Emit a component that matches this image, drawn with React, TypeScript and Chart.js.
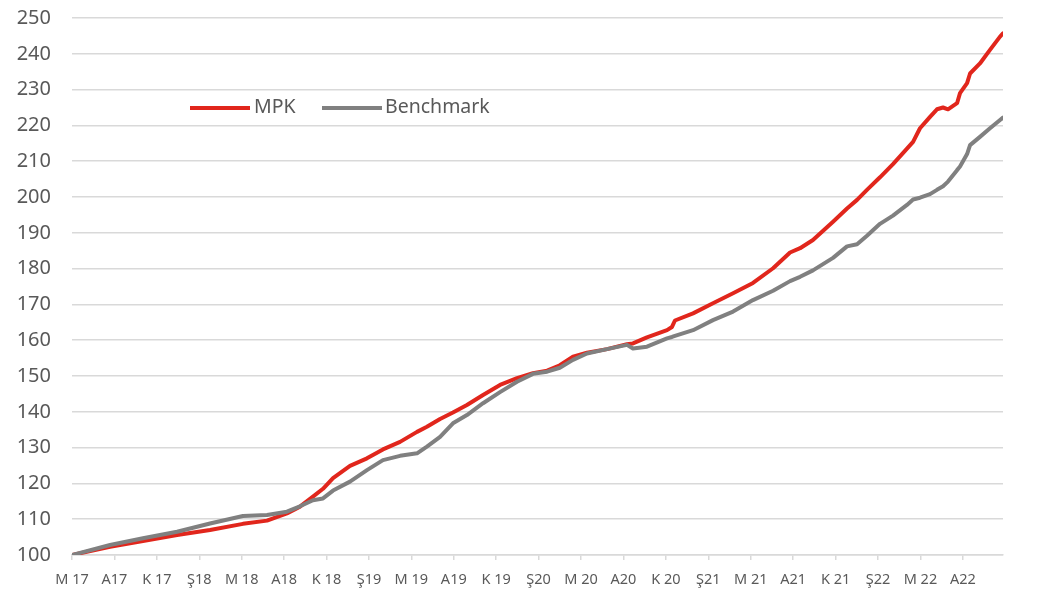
import React, { useEffect, useRef } from "react";
import { Chart, registerables } from "chart.js";

Chart.register(...registerables);

// Quarterly tick labels (Turkish month initials + year), starting May 2017
const tickLabels = [
  "M 17", "A17", "K 17", "Ş18", "M 18", "A18", "K 18", "Ş19", "M 19", "A19", "K 19",
  "Ş20", "M 20", "A20", "K 20", "Ş21", "M 21", "A21", "K 21", "Ş22", "M 22", "A22",
];

// Position of each sample, in months since May 2017
const months = [
  0, 2.69, 5.02, 7.43, 9.76, 12.09, 13.79, 15.2, 16.12, 17.04, 17.75, 18.46, 19.66,
  20.86, 21.99, 23.2, 24.4, 25.1, 26.03, 26.94, 27.93, 29.07, 30.27, 31.47, 32.6,
  33.6, 34.5, 35.43, 36.42, 37.84, 39.25, 39.67, 40.66, 42.08, 42.43, 42.64, 43.92,
  45.33, 46.75, 48.16, 49.58, 50.78, 51.49, 52.4, 53.82, 54.81, 55.52, 56.22, 57.14,
  58.06, 59.05, 59.48, 59.97, 60.68, 61.17, 61.6, 61.95, 62.59, 62.8, 63.3, 63.51,
  64.21, 64.92, 65.63, 65.84,
];

const mpk = [
  100, 102.3, 103.9, 105.6, 107.0, 108.7, 109.6, 111.6, 113.5, 116.3, 118.5, 121.5, 124.9,
  127.0, 129.5, 131.6, 134.4, 135.8, 138.0, 139.8, 141.9, 144.7, 147.5, 149.4, 150.8,
  151.5, 153.0, 155.4, 156.5, 157.5, 158.9, 159.1, 160.8, 162.8, 163.7, 165.5, 167.5,
  170.3, 173.1, 176.0, 180.1, 184.5, 185.7, 188.0, 193.1, 196.8, 199.2, 202.0, 205.5,
  209.2, 213.5, 215.4, 219.2, 222.4, 224.5, 225.0, 224.5, 226.2, 229.0, 231.8, 234.5,
  237.3, 241.1, 244.8, 245.7,
];

const benchmark = [
  100, 102.8, 104.7, 106.5, 108.8, 110.9, 111.2, 112.1, 113.6, 115.3, 115.8, 118.0, 120.5,
  123.7, 126.5, 127.7, 128.4, 130.3, 133.0, 136.8, 139.1, 142.4, 145.5, 148.4, 150.6,
  151.2, 152.3, 154.5, 156.3, 157.5, 158.7, 157.7, 158.2, 160.5, 160.9, 161.2, 162.8,
  165.6, 168.0, 171.2, 173.8, 176.5, 177.7, 179.5, 183.0, 186.2, 186.8, 189.2, 192.5,
  194.8, 197.8, 199.3, 199.8, 200.8, 202.0, 203.0, 204.3, 207.5, 208.5, 212.0, 214.5,
  216.8, 219.2, 221.5, 222.2,
];

const seriesNames = ["MPK", "Benchmark"];
const RED = "#e1261c";
const GRAY = "#808080";
const TEXT = "#595959";
const GRID = "#d9d9d9";
const FONT = "'Noto Sans', sans-serif";

export default function App() {
  const ref = useRef<HTMLCanvasElement>(null);

  useEffect(() => {
    const legendPlugin = {
      id: "customLegend",
      afterDraw(chart: any) {
        const ctx = chart.ctx as CanvasRenderingContext2D;
        ctx.save();
        ctx.lineWidth = 4;
        ctx.lineCap = "butt";
        ctx.font = `19.5px ${FONT}`;
        ctx.textBaseline = "middle";
        ctx.fillStyle = TEXT;
        const items = [
          { color: RED, x0: 190, x1: 250, tx: 254, text: seriesNames[0] },
          { color: GRAY, x0: 322, x1: 382, tx: 385, text: seriesNames[1] },
        ];
        for (const it of items) {
          ctx.strokeStyle = it.color;
          ctx.beginPath();
          ctx.moveTo(it.x0, 108);
          ctx.lineTo(it.x1, 108);
          ctx.stroke();
          ctx.fillText(it.text, it.tx, 107.5);
        }
        ctx.restore();
      },
    };

    const chart = new Chart(ref.current!, {
      type: "line",
      data: {
        datasets: [
          {
            label: seriesNames[0],
            data: months.map((m, i) => ({ x: m, y: mpk[i] })),
            borderColor: RED,
            backgroundColor: RED,
            borderWidth: 4,
            pointRadius: 0,
            tension: 0,
            borderJoinStyle: "round",
            borderCapStyle: "round",
            order: 1,
          },
          {
            label: seriesNames[1],
            data: months.map((m, i) => ({ x: m, y: benchmark[i] })),
            borderColor: GRAY,
            backgroundColor: GRAY,
            borderWidth: 4,
            pointRadius: 0,
            tension: 0,
            borderJoinStyle: "round",
            borderCapStyle: "round",
            order: 0,
          },
        ],
      },
      options: {
        animation: false,
        responsive: false,
        layout: { padding: { top: 18, right: 51, left: 0, bottom: 0 } },
        plugins: { legend: { display: false }, tooltip: { enabled: false } },
        scales: {
          x: {
            type: "linear",
            min: 0,
            max: 65.84,
            afterBuildTicks: (s: any) => {
              s.ticks = tickLabels.map((_, i) => ({ value: i * 3 }));
            },
            afterFit: (s: any) => {
              s.height = 36;
            },
            grid: {
              drawOnChartArea: false,
              drawTicks: true,
              tickLength: 5,
              color: GRID,
              lineWidth: 1.5,
            },
            border: { display: true, color: GRID, width: 1.5 },
            ticks: {
              autoSkip: false,
              maxRotation: 0,
              padding: 11,
              color: TEXT,
              font: { family: FONT, size: 14.5 },
              callback: (_v: any, i: number) => tickLabels[i],
            },
          },
          y: {
            min: 100,
            max: 250,
            afterFit: (s: any) => {
              s.width = 72;
              s.paddingTop = 0;
              s.paddingBottom = 0;
            },
            grid: { drawTicks: false, color: GRID, lineWidth: 1.5 },
            border: { display: false },
            ticks: {
              stepSize: 10,
              padding: 21,
              color: TEXT,
              font: { family: FONT, size: 20 },
            },
          },
        },
      },
      plugins: [legendPlugin],
    } as any);

    return () => chart.destroy();
  }, []);

  return (
    <div style={{ position: "fixed", left: 0, top: 0, width: 1054, height: 591, background: "#fff" }}>
      <canvas ref={ref} width={1054} height={591} style={{ width: 1054, height: 591, display: "block" }} />
    </div>
  );
}
